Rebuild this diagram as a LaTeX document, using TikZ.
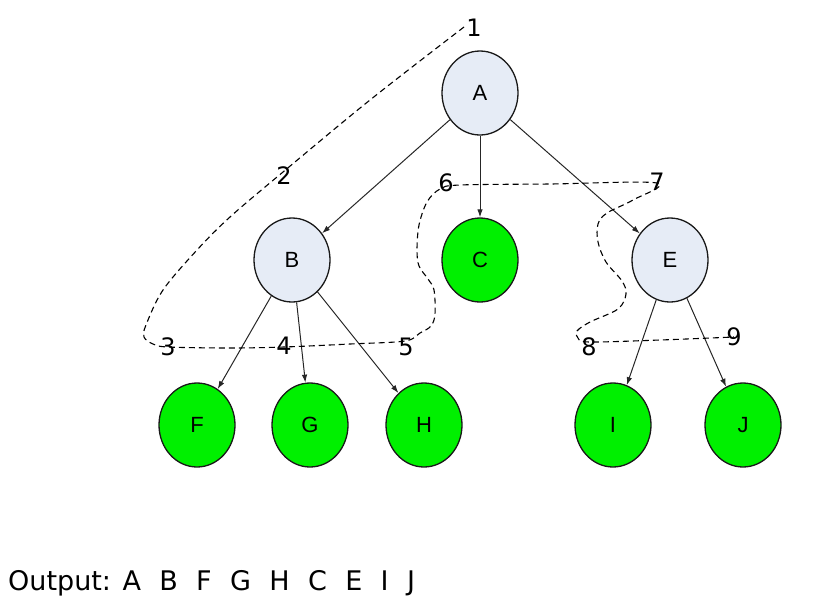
\documentclass[tikz,border=0pt]{standalone}
\usepackage{fontspec}
\setmainfont{DejaVu Sans}
\newfontfamily\nodefont{Liberation Sans}
\usetikzlibrary{shapes.geometric,arrows.meta}
\definecolor{lightnode}{HTML}{E6ECF6}
\definecolor{leafgreen}{HTML}{00F000}
\begin{document}
\begin{tikzpicture}[x=1pt,y=-1pt,
  tnode/.style={ellipse, draw=black!90, line width=1.3pt, minimum width=76pt, minimum height=84pt, inner sep=0pt,
     font=\nodefont\fontsize{22}{22}\selectfont},
  inner/.style={tnode, fill=lightnode},
  leaf/.style={tnode, fill=leafgreen},
  edge/.style={draw=black!85, line width=1pt, -{Latex[length=8pt,width=5.5pt]}},
  num/.style={inner sep=0pt, font=\fontsize{24}{24}\selectfont},
  trail/.style={draw=black, line width=1.1pt, dash pattern=on 6pt off 4pt}]
\useasboundingbox (0,0) rectangle (827,598);
% nodes
\node[inner] (A) at (480,93) {A};
\node[inner] (B) at (292,260) {B};
\node[leaf]  (C) at (480,260) {C};
\node[inner] (E) at (670,260) {E};
\node[leaf]  (F) at (197,425) {F};
\node[leaf]  (G) at (310,425) {G};
\node[leaf]  (H) at (424,425) {H};
\node[leaf]  (I) at (613,425) {I};
\node[leaf]  (J) at (743,425) {J};
% edges
\draw[edge] (A) -- (B);
\draw[edge] (A) -- (C);
\draw[edge] (A) -- (E);
\draw[edge] (B) -- (F);
\draw[edge] (B) -- (G);
\draw[edge] (B) -- (H);
\draw[edge] (E) -- (I);
\draw[edge] (E) -- (J);
% traversal labels
\node[num] (n1) at (474,28) {1};
\node[num] (n2) at (284,176) {2};
\node[num] (n3) at (168,347) {3};
\node[num] (n4) at (284,346) {4};
\node[num] (n5) at (406,347) {5};
\node[num] (n6) at (446,183) {6};
\node[num] (n7) at (657,182) {7};
\node[num] (n8) at (589,347) {8};
\node[num] (n9) at (734,337) {9};
% traversal trail
\draw[trail] plot[smooth, tension=0.55] coordinates {
  (464,27) (370,100) (283,172) (230,217) (197,250) (163,290) (146,325) (144,337) (153,344) (168,347)
  (230,348) (284,347) (350,344) (405,341) (420,333) (431,326) (435,314) (434,290) (428,279) (419,266) (417,250) (419,225) (427,202) (440,189)
  (460,185) (550,184) (657,183)
  (633,200) (607,213) (598,224) (598,242) (606,262) (622,281) (626,294) (618,309) (590,322) (577,331) (578,338) (589,342)
  (660,340) (734,337)};
% output line
\node[anchor=base west, inner sep=0pt, font=\fontsize{27}{27}\selectfont] (out) at (8,590)
  {Output: A\hspace{0.68em}B\hspace{0.68em}F\hspace{0.68em}G\hspace{0.68em}H\hspace{0.68em}C\hspace{0.68em}E\hspace{0.68em}I\hspace{0.68em}J};
\end{tikzpicture}
\end{document}
